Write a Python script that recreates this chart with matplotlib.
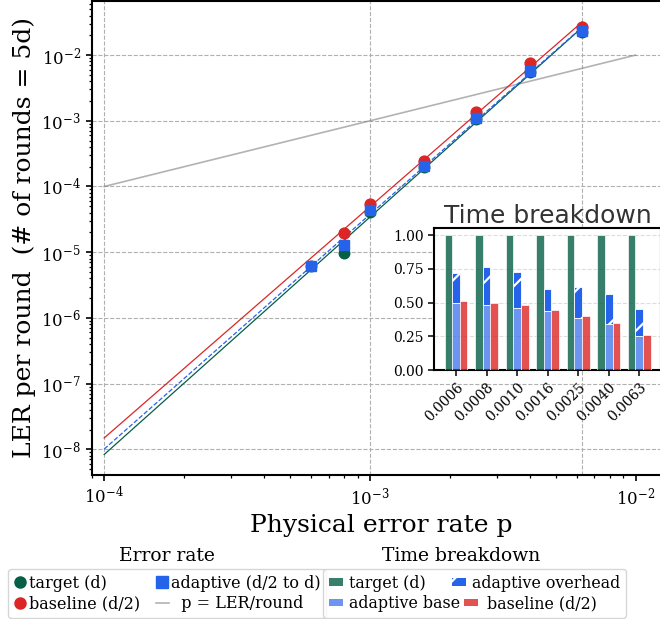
import numpy as np
import matplotlib
matplotlib.use("Agg")
import matplotlib.pyplot as plt
from matplotlib.lines import Line2D
from matplotlib.patches import Patch, Rectangle
from matplotlib.legend_handler import HandlerPatch

plt.rcParams['font.family'] = 'DejaVu Serif'
plt.rcParams['mathtext.fontset'] = 'dejavuserif'
plt.rcParams['hatch.linewidth'] = 1.6

# Physical error rates sampled
p_values = [0.0006, 0.0008, 0.0010, 0.0016, 0.0025, 0.0040, 0.0063]

# Logical error rate per round for each scheme (nan = no failures observed)
ler_target = [6.25e-6, 9.7e-6, 4.1e-5, 2.0e-4, 1.05e-3, 5.6e-3, 2.25e-2]
ler_baseline = [np.nan, 1.95e-5, 5.4e-5, 2.48e-4, 1.37e-3, 7.47e-3, 2.7e-2]
ler_adaptive = [6.25e-6, 1.29e-5, 4.4e-5, 2.08e-4, 1.09e-3, 5.77e-3, 2.31e-2]

# Normalised run time breakdown
time_target = [1.0, 1.0, 1.0, 1.0, 1.0, 1.0, 1.0]
time_adaptive_base = [0.50, 0.48, 0.46, 0.437, 0.388, 0.338, 0.252]
time_adaptive_total = [0.716, 0.763, 0.723, 0.598, 0.615, 0.563, 0.452]
time_baseline = [0.511, 0.50, 0.481, 0.442, 0.398, 0.351, 0.259]

# Range for the fitted curves and the p = LER reference line
fit_start = 1e-4
identity_range = [1e-4, 1e-2]

GREEN = '#065f46'
RED = '#dc2626'
BLUE = '#2563eb'

fig = plt.figure(figsize=(6.6, 6.19), dpi=100)
ax = fig.add_axes([92 / 660, (619 - 475) / 619, 578 / 660, 474 / 619])
ax.set_xscale('log')
ax.set_yscale('log')
ax.set_xlim(9e-5, 1.348e-2)
ax.set_ylim(4.06e-9, 6.66e-2)

# reference line p = LER
ax.plot(identity_range, identity_range, color='gray', alpha=0.6, lw=1.2, zorder=2)


def power_fit(ps, ys):
    ps = np.asarray(ps, float)
    ys = np.asarray(ys, float)
    ok = np.isfinite(ys)
    k, b = np.polyfit(np.log10(ps[ok]), np.log10(ys[ok]), 1)
    xs = np.logspace(np.log10(fit_start), np.log10(max(ps)), 50)
    return xs, 10 ** (b + k * np.log10(xs))


for ys, col, ls in [(ler_target, GREEN, '-'), (ler_baseline, RED, '-'),
                    (ler_adaptive, BLUE, '--')]:
    fx, fy = power_fit(p_values, ys)
    ax.plot(fx, fy, color=col, ls=ls, lw=0.9, zorder=3)

ax.plot(p_values, ler_target, 'o', color=GREEN, ms=7.6, zorder=4)
ax.plot(p_values, ler_baseline, 'o', color=RED, ms=7.8, zorder=5)
ax.plot(p_values, ler_adaptive, 's', color=BLUE, ms=7.8, zorder=6)

# grid
ax.grid(axis='y', which='major', ls='--', color='#b0b0b0', lw=0.8)
for xv in [1e-4, 1e-3, p_values[-1]]:
    ax.axvline(xv, ls='--', color='#b0b0b0', lw=0.8, zorder=0.5)

ax.tick_params(which='major', labelsize=12, length=4.5, width=1.2)
ax.tick_params(which='minor', length=2.5, width=0.9)
for s in ax.spines.values():
    s.set_linewidth(1.5)
ax.set_xlabel('Physical error rate p', fontsize=18)
ax.set_ylabel('LER per round  (# of rounds = 5d)', fontsize=18)

# inset bar chart
axin = fig.add_axes([434.2 / 660, (619 - 370) / 619, 226.8 / 660, 141.7 / 619])
axin.set_facecolor('white')
xpos = np.arange(len(p_values))
w = 0.25
overhead = np.array(time_adaptive_total) - np.array(time_adaptive_base)
axin.bar(xpos - w, time_target, w, color=GREEN, alpha=0.8, edgecolor='white', lw=0.6, zorder=3)
axin.bar(xpos, time_adaptive_base, w, color=BLUE, alpha=0.68, edgecolor='white', lw=0.6, zorder=3)
axin.bar(xpos, overhead, w, bottom=time_adaptive_base, color=BLUE, edgecolor='white',
         lw=0.6, hatch='/', zorder=3)
axin.bar(xpos + w, time_baseline, w, color=RED, alpha=0.8, edgecolor='white', lw=0.6, zorder=3)
axin.set_xticks(xpos)
axin.set_xticklabels([f'{p:.4f}' for p in p_values], rotation=45, ha='right',
                     rotation_mode='anchor')
axin.set_yticks([0, 0.25, 0.5, 0.75, 1.0])
axin.tick_params(labelsize=10, length=4, width=1.1)
axin.grid(axis='y', ls='--', color='#dddddd', lw=0.8, zorder=0)
for s in axin.spines.values():
    s.set_linewidth(1.5)
axin.set_title('Time breakdown', fontfamily='DejaVu Sans', fontsize=18,
               color='#333333', pad=2)

# legends
h1 = [Line2D([], [], ls='none', marker='o', color=GREEN, ms=8),
      Line2D([], [], ls='none', marker='o', color=RED, ms=8),
      Line2D([], [], ls='none', marker='s', color=BLUE, ms=8),
      Line2D([], [], color='gray', alpha=0.6, lw=1.2)]
l1 = ['target (d)', 'baseline (d/2)', 'adaptive (d/2 to d)', '  p = LER/round']
leg1 = fig.legend(h1, l1, loc='upper left', bbox_to_anchor=(8 / 660, 1 - 569 / 619),
                  ncol=2, fontsize=11.5, handlelength=0.8, handletextpad=0.15,
                  labelspacing=0.22, borderpad=0.35, columnspacing=1.0,
                  borderaxespad=0)


def nudged_patch(legend, orig_handle, xdescent, ydescent, width, height, fontsize):
    # small swatch drawn a bit to the right inside its legend slot
    return Rectangle((-xdescent + 0.78 * fontsize, -ydescent), width, height)


red_handle = Patch(facecolor=RED, alpha=0.8, edgecolor='none')
h2 = [Patch(facecolor=GREEN, alpha=0.8, edgecolor='none'),
      Patch(facecolor=BLUE, alpha=0.68, edgecolor='none'),
      Patch(facecolor=BLUE, edgecolor='white', lw=0, hatch='/'),
      red_handle]
l2 = ['target (d)', 'adaptive base', 'adaptive overhead', '   baseline (d/2)']
leg2 = fig.legend(h2, l2, loc='upper left', bbox_to_anchor=(323 / 660, 1 - 569 / 619),
                  ncol=2, fontsize=11.4, handlelength=0.9, handleheight=0.35,
                  handletextpad=0.4, labelspacing=0.22, borderpad=0.35,
                  columnspacing=-0.55, borderaxespad=0,
                  handler_map={red_handle: HandlerPatch(patch_func=nudged_patch)})

fig.text(167 / 660, 1 - 556 / 619, 'Error rate', ha='center', va='center', fontsize=13.5)
fig.text(461 / 660, 1 - 556 / 619, 'Time breakdown', ha='center', va='center', fontsize=13.5)

fig.savefig('out.png', dpi=100)
